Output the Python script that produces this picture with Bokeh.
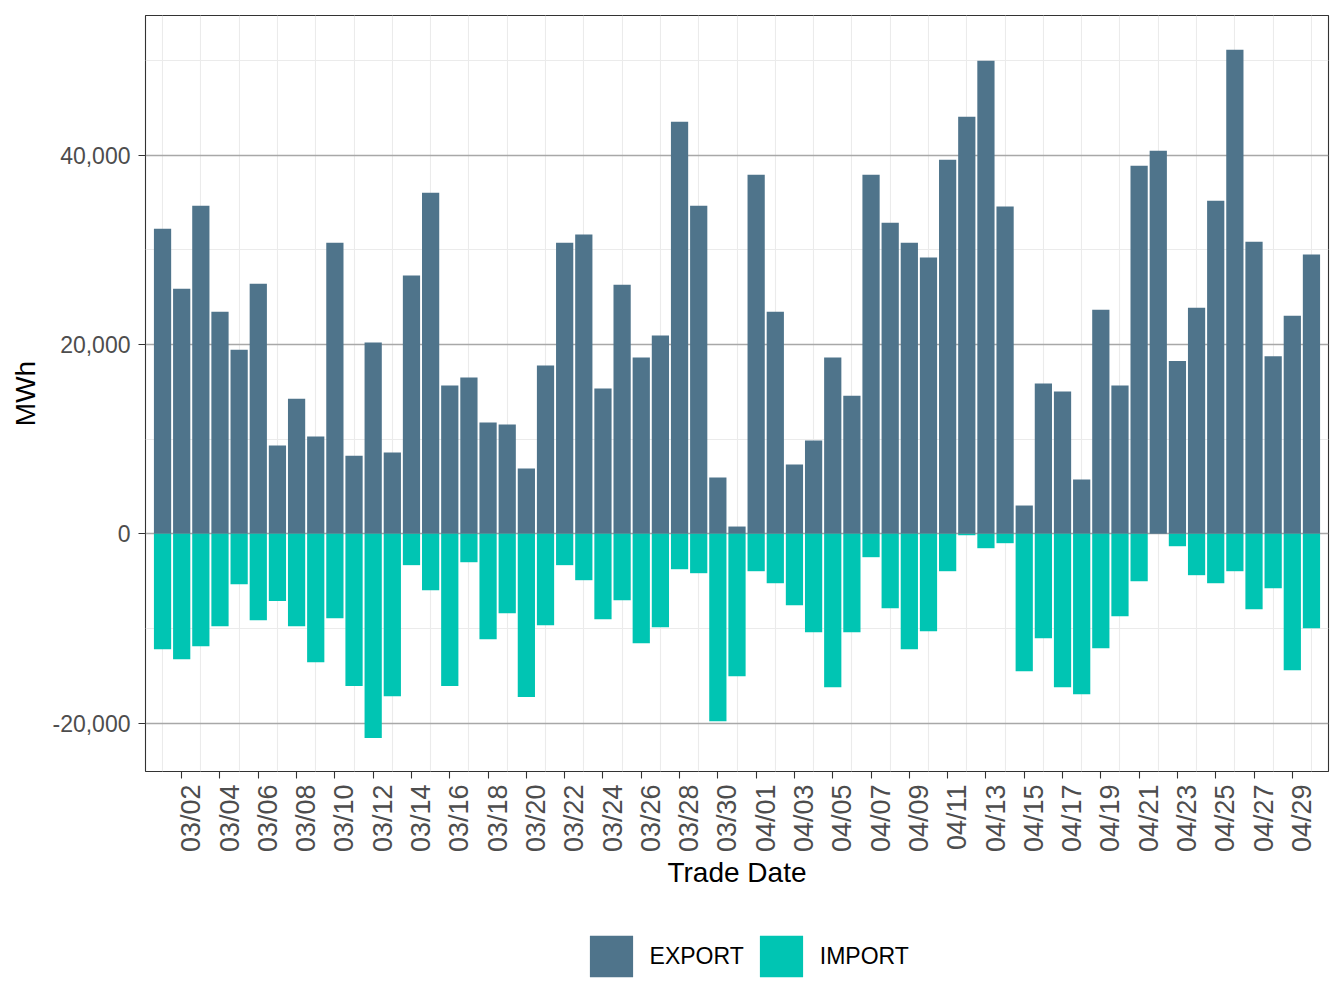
import math
from bokeh.plotting import figure
from bokeh.layouts import column
from bokeh.models import (Range1d, LinearAxis, FixedTicker, NumeralTickFormatter,
                          Legend, LegendItem, ColumnDataSource)
from bokeh.embed import file_html
from bokeh.resources import INLINE

# Daily interchange volumes (MWh), 03/01 through 04/30
trade_dates = [
    "03/01", "03/02", "03/03", "03/04", "03/05", "03/06", "03/07", "03/08", "03/09", "03/10",
    "03/11", "03/12", "03/13", "03/14", "03/15", "03/16", "03/17", "03/18", "03/19", "03/20",
    "03/21", "03/22", "03/23", "03/24", "03/25", "03/26", "03/27", "03/28", "03/29", "03/30", "03/31",
    "04/01", "04/02", "04/03", "04/04", "04/05", "04/06", "04/07", "04/08", "04/09", "04/10",
    "04/11", "04/12", "04/13", "04/14", "04/15", "04/16", "04/17", "04/18", "04/19", "04/20",
    "04/21", "04/22", "04/23", "04/24", "04/25", "04/26", "04/27", "04/28", "04/29", "04/30",
]

export_mwh = [
    32240, 25900, 34670, 23470, 19460, 26430, 9320, 14280, 10270, 30760,
    8260, 20200, 8580, 27280, 36040, 15680, 16520, 11760, 11550, 6900,
    17780, 30760, 31610, 15350, 26320, 18640, 20960, 43540, 34670, 5950, 770,
    37940, 23470, 7320, 9850, 18640, 14600, 37940, 32870, 30760, 29180,
    39520, 44060, 49980, 34570, 2990, 15880, 15030, 5740, 23680, 15670,
    38890, 40480, 18270, 23890, 35200, 51140, 30870, 18750, 23050, 29500,
]

import_mwh = [
    -12190, -13240, -11870, -9760, -5320, -9120, -7110, -9760, -13560, -8910,
    -16090, -21580, -17150, -3310, -5950, -16090, -3000, -11130, -8380, -17250,
    -9650, -3310, -4900, -9020, -7010, -11550, -9860, -3740, -4160, -19790, -15040,
    -3950, -5220, -7540, -10390, -16200, -10390, -2470, -7860, -12190, -10290,
    -3950, -150, -1520, -990, -14510, -11020, -16200, -16940, -12080, -8700,
    -5010, 0, -1310, -4370, -5220, -3950, -7960, -5740, -14400, -9970,
]

series_names = ["EXPORT", "IMPORT"]
series_colors = ["#4F748B", "#00C5B3"]
y_ticks = [-20000, 0, 20000, 40000]
y_minor = [-10000, 10000, 30000, 50000]

FONT = "Liberation Sans"
day = list(range(len(trade_dates)))
src = ColumnDataSource(dict(day=day, date=trade_dates, export=export_mwh, imp=import_mwh))

x_lo, x_hi = -0.89, len(trade_dates) - 1 + 0.89
p = figure(width=1344, height=900, output_backend="svg", toolbar_location=None,
           x_range=Range1d(x_lo, x_hi), y_range=Range1d(-25110, 54760),
           min_border_left=145, min_border_right=16, min_border_top=15, min_border_bottom=129)
p.background_fill_color = "white"
p.border_fill_color = "white"
p.outline_line_color = "#333333"
p.outline_line_width = 1.1

# grid: light lines on odd days / odd 10k steps, darker on labelled y values
label_days = [i for i in day if i % 2 == 1]
grid_days = [i for i in day if i % 2 == 0]
p.xgrid.ticker = FixedTicker(ticks=grid_days)
p.xgrid.grid_line_color = "#EBEBEB"
p.xgrid.grid_line_width = 1.1
p.ygrid.ticker = FixedTicker(ticks=y_ticks, minor_ticks=y_minor)
p.ygrid.grid_line_color = "#A8A8A8"
p.ygrid.grid_line_width = 1.3
p.ygrid.minor_grid_line_color = "#EBEBEB"
p.ygrid.minor_grid_line_width = 1.1

r_exp = p.vbar(x="day", top="export", bottom=0, width=0.9, source=src,
               fill_color=series_colors[0], line_color=None)
r_imp = p.vbar(x="day", top="imp", bottom=0, width=0.9, source=src,
               fill_color=series_colors[1], line_color=None)

# y axis
ya = p.yaxis[0]
ya.ticker = FixedTicker(ticks=y_ticks)
ya.formatter = NumeralTickFormatter(format="0,0")
ya.axis_line_color = None
ya.major_tick_line_color = "#333333"
ya.major_tick_line_width = 1.1
ya.major_tick_out = 7
ya.major_tick_in = 0
ya.minor_tick_line_color = None
ya.major_label_text_font = FONT
ya.major_label_text_font_size = "23px"
ya.major_label_text_color = "#4D4D4D"
ya.major_label_standoff = 8
ya.axis_label = "MWh"
ya.axis_label_text_font = FONT
ya.axis_label_text_font_size = "28px"
ya.axis_label_text_font_style = "normal"
ya.axis_label_text_color = "black"
ya.axis_label_standoff = 8

# x axis: tick marks only, on even dates
xa = p.xaxis[0]
xa.ticker = FixedTicker(ticks=[], minor_ticks=label_days)
xa.axis_line_color = None
xa.major_tick_line_color = None
xa.minor_tick_line_color = "#333333"
xa.minor_tick_line_width = 1.1
xa.minor_tick_out = 7
xa.minor_tick_in = 0
xa.major_tick_out = 0
xa.major_tick_in = 0
xa.major_label_standoff = 0

# rotated date labels, set just right of their ticks
p.extra_x_ranges = {"lbl": Range1d(x_lo - 0.5, x_hi - 0.5)}
la = LinearAxis(x_range_name="lbl", ticker=FixedTicker(ticks=label_days),
                major_label_overrides={i: trade_dates[i] for i in label_days})
la.axis_line_color = None
la.major_tick_line_color = None
la.minor_tick_line_color = None
la.major_tick_out = 0
la.major_tick_in = 0
la.major_label_orientation = math.pi / 2
la.major_label_text_font = FONT
la.major_label_text_font_size = "27px"
la.major_label_text_color = "#4D4D4D"
la.major_label_standoff = 6
la.axis_label = "Trade Date"
la.axis_label_text_font = FONT
la.axis_label_text_font_size = "28px"
la.axis_label_text_font_style = "normal"
la.axis_label_text_color = "black"
la.axis_label_standoff = 2
p.add_layout(la, "below")

# legend strip underneath the chart; its bars sit outside the strip's view,
# so only the legend swatches show
lg = figure(width=1344, height=108, output_backend="svg", toolbar_location=None,
            x_range=Range1d(0, 1), y_range=Range1d(1e6, 2e6),
            x_axis_type=None, y_axis_type=None,
            min_border_left=0, min_border_right=0, min_border_top=0, min_border_bottom=0)
lg.grid.visible = False
lg.outline_line_color = None
lg.background_fill_color = "white"
lg.border_fill_color = "white"
k_exp = lg.vbar(x="day", top="export", bottom=0, width=0.9, source=src,
                fill_color=series_colors[0], line_color=None)
k_imp = lg.vbar(x="day", top="imp", bottom=0, width=0.9, source=src,
                fill_color=series_colors[1], line_color=None)

legend = Legend(items=[LegendItem(label=series_names[0], renderers=[k_exp]),
                       LegendItem(label=series_names[1], renderers=[k_imp])],
                orientation="horizontal", location=(438.6, 26))
legend.padding = 0
legend.margin = 0
legend.spacing = 10
legend.glyph_width = 54
legend.glyph_height = 52
legend.label_height = 52
legend.label_standoff = 12
legend.label_text_font = FONT
legend.label_text_font_size = "23px"
legend.label_text_color = "black"
legend.border_line_color = None
legend.background_fill_alpha = 0
lg.add_layout(legend)

page = column(p, lg, spacing=0)
open("out.html", "w").write(file_html(page, INLINE))
